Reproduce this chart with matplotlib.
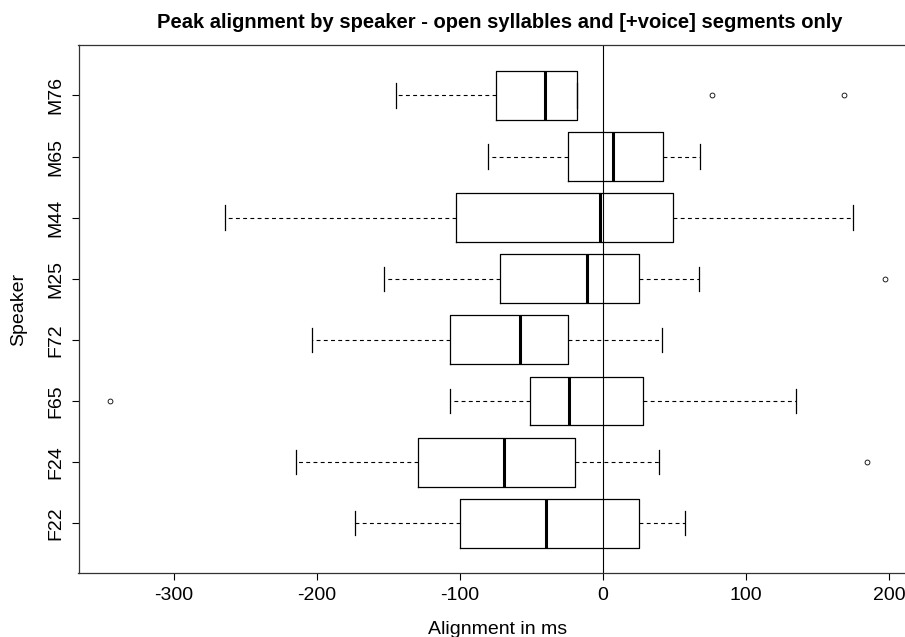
import matplotlib.pyplot as plt

plt.rcParams['font.family'] = ['Liberation Sans', 'DejaVu Sans']
plt.rcParams['axes.unicode_minus'] = False

speakers = ["F22", "F24", "F65", "F72", "M25", "M44", "M65", "M76"]
whislo = [-173.6, -214.3, -107.0, -203.4, -153.0, -264.4, -80.4, -144.9]
q1 = [-100.1, -129.6, -50.9, -107.0, -71.9, -102.9, -24.6, -75.1]
med = [-39.6, -69.0, -23.4, -57.8, -10.9, -1.7, 6.8, -40.8]
q3 = [25.0, -19.8, 28.3, -24.6, 25.0, 48.8, 42.0, -18.2]
whishi = [57.3, 39.1, 134.8, 41.1, 67.0, 175.1, 68.2, -18.2]
fliers = [[], [184.4], [-344.7], [], [197.3], [], [], [76.2, 168.3]]

stats = []
for i in range(len(speakers)):
    stats.append(dict(label=speakers[i], whislo=whislo[i], q1=q1[i], med=med[i],
                      q3=q3[i], whishi=whishi[i], fliers=fliers[i]))

fig = plt.figure(figsize=(9.05, 6.37), dpi=100)
ax = fig.add_axes([78.5 / 905, 1 - 573.3 / 637, 838.6 / 905, 528 / 637])

ax.bxp(stats, positions=range(1, 9), vert=False, widths=0.8, capwidths=0.4,
       boxprops=dict(color="black", lw=0.9),
       medianprops=dict(color="black", lw=2.2),
       whiskerprops=dict(color="black", lw=0.8, linestyle=(0, (3.5, 3))),
       capprops=dict(color="black", lw=0.9),
       flierprops=dict(marker="o", markersize=3.5, markerfacecolor="none",
                       markeredgecolor="black", markeredgewidth=0.6))

ax.axvline(0, color="black", lw=0.8, zorder=0)

ax.set_xlim(-366.7, 219.7)
ax.set_ylim(0.18, 8.82)
ax.set_xticks([-300, -200, -100, 0, 100, 200])
ax.set_yticks(range(1, 9))
ax.set_yticklabels(speakers, rotation=90, va="center")
ax.tick_params(labelsize=14, length=5, width=0.8, pad=5)
for s in ax.spines.values():
    s.set_linewidth(0.9)
    s.set_color("#333333")

ax.set_xlabel("Alignment in ms", fontsize=14, labelpad=12)
ax.set_ylabel("Speaker", fontsize=14, labelpad=15)
fig.text(500 / 905, 1 - 28 / 637, "Peak alignment by speaker - open syllables and [+voice] segments only",
         ha="center", va="baseline", fontsize=14.5, fontweight="bold")

fig.savefig("out.png", dpi=100)
